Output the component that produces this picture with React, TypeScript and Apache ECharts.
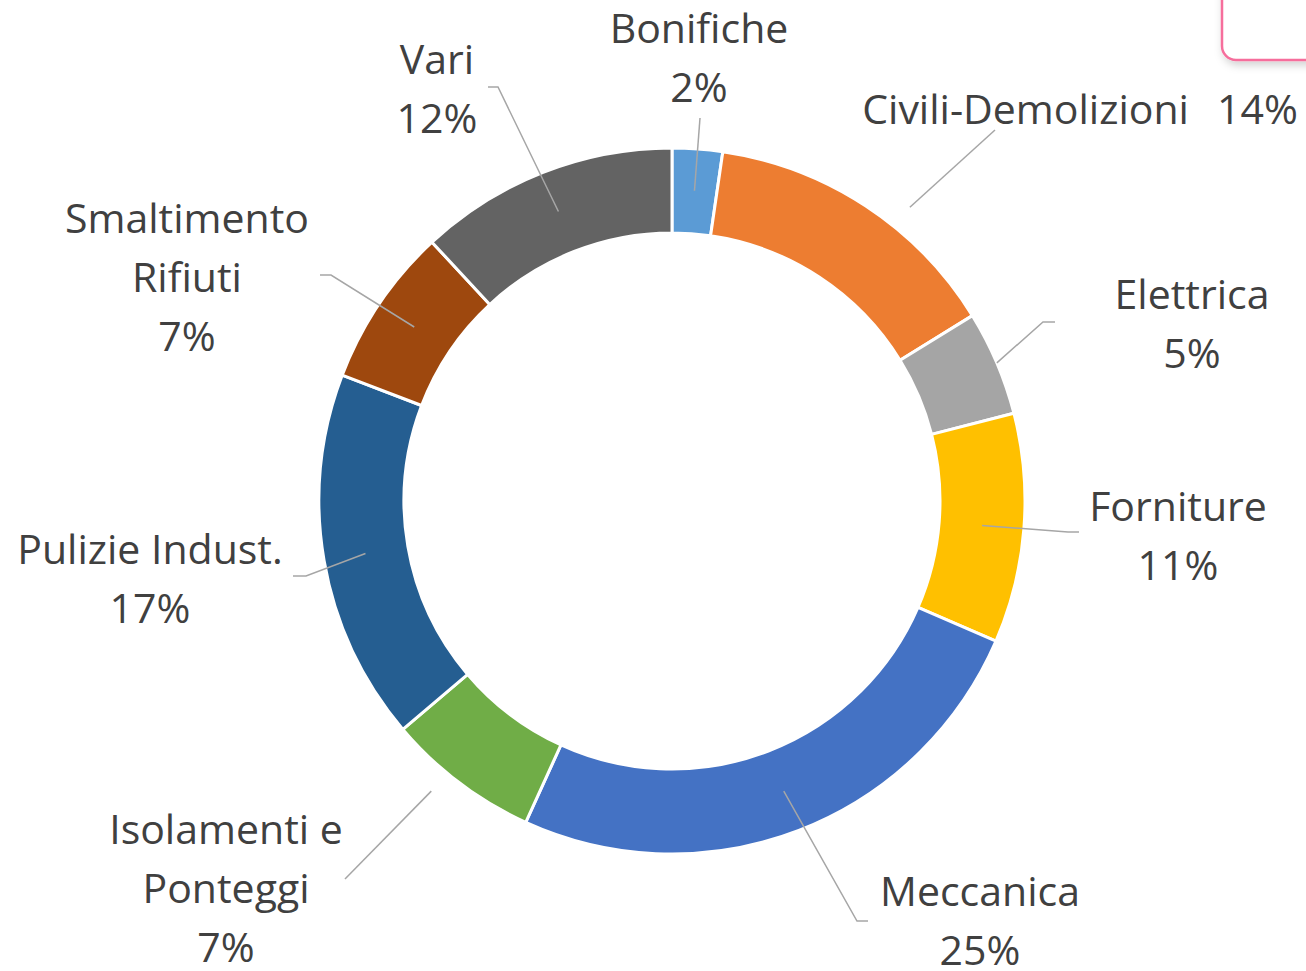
import React, { useEffect, useRef } from 'react';
import * as echarts from 'echarts';

// ---- data ----
const categories = [
  'Bonifiche',
  'Civili-Demolizioni',
  'Elettrica',
  'Forniture',
  'Meccanica',
  'Isolamenti e Ponteggi',
  'Pulizie Indust.',
  'Smaltimento Rifiuti',
  'Vari',
];
const shares = [2.3, 13.9, 4.8, 10.5, 25.3, 7.0, 17.0, 7.3, 11.9];

// ---- styling / layout ----
const colors = ['#5B9BD5', '#ED7D31', '#A5A5A5', '#FFC000', '#4472C4', '#70AD47', '#255E91', '#9E480E', '#636363'];
const labelNames = ['Bonifiche', 'Civili-Demolizioni', 'Elettrica', 'Forniture', 'Meccanica', 'Isolamenti e\nPonteggi', 'Pulizie Indust.', 'Smaltimento\nRifiuti', 'Vari'];
const labelSep = ['\n', '  \u2009', '\n', '\n', '\n', '\n', '\n', '\n', '\n'];
const CX = 672;
const CY = 501;
const R_IN = 268;
const R_OUT = 353;
const FONT = '"Open Sans", sans-serif';
const labelPos = [
  [699, 56], [1080, 108], [1192, 322], [1178, 534], [980, 919],
  [226, 887], [150, 577], [187, 276], [437, 87],
];
const lineStartR = [311, 378, 353, 311, 311, 377, 311, 311, 311];
const lineStartShiftDeg = [0, 5.7, 0, 0, 0, 2.6, 0, 0, 0];
const lineTail = [
  [[700, 118]],
  [[995, 130]],
  [[1043, 322], [1055, 322]],
  [[1068, 532], [1079, 532]],
  [[857, 921], [868, 921]],
  [[345, 879]],
  [[306, 576], [293, 576]],
  [[331, 275], [320, 275]],
  [[498, 87], [488, 87]],
];

function lineStart(i: number): number[] {
  const total = shares.reduce((a, b) => a + b, 0);
  let cum = 0;
  for (let k = 0; k < i; k++) cum += shares[k];
  const f = (cum + shares[i] / 2) / total;
  const t = f * Math.PI * 2 + (lineStartShiftDeg[i] * Math.PI) / 180;
  const r = lineStartR[i];
  return [CX + r * Math.sin(t), CY - r * Math.cos(t)];
}

export default function App() {
  const ref = useRef<HTMLDivElement>(null);
  useEffect(() => {
    const chart = echarts.init(ref.current as HTMLDivElement, null, { renderer: 'svg' });
    const data = categories.map((name, i) => ({ name, value: shares[i] }));
    chart.setOption({
      animation: false,
      backgroundColor: '#ffffff',
      color: colors,
      graphic: [
        {
          type: 'rect',
          shape: { x: 1222, y: -30, width: 120, height: 90, r: 14 },
          style: {
            fill: '#ffffff',
            stroke: '#F66E9C',
            lineWidth: 2.5,
            shadowBlur: 8,
            shadowColor: 'rgba(0,0,0,0.18)',
            shadowOffsetX: 2,
            shadowOffsetY: 4,
          },
          z: 1,
        },
      ],
      series: [
        {
          type: 'pie',
          z: 2,
          center: [CX, CY],
          radius: [R_IN, R_OUT],
          startAngle: 90,
          clockwise: true,
          avoidLabelOverlap: false,
          itemStyle: { borderColor: '#ffffff', borderWidth: 3 },
          label: { show: false },
          labelLine: { show: false },
          emphasis: { disabled: true },
          silent: true,
          data,
        },
        {
          type: 'pie',
          z: 3,
          center: [CX, CY],
          radius: [R_IN, R_OUT],
          startAngle: 90,
          clockwise: true,
          avoidLabelOverlap: false,
          percentPrecision: 0,
          silent: true,
          itemStyle: { color: 'rgba(0,0,0,0)', borderWidth: 0 },
          label: {
            show: true,
            position: 'outside',
            fontFamily: FONT,
            fontSize: 41,
            lineHeight: 59,
            color: '#404040',
            align: 'center',
            formatter: (p: any) => `${labelNames[p.dataIndex]}${labelSep[p.dataIndex]}${p.percent}%`,
          },
          labelLine: {
            show: true,
            smooth: false,
            lineStyle: { color: '#A6A6A6', width: 1.5 },
          },
          labelLayout: (params: any) => {
            const i = params.dataIndex;
            return {
              x: labelPos[i][0],
              y: labelPos[i][1],
              align: 'center',
              verticalAlign: 'middle',
              hideOverlap: false,
              labelLinePoints: [lineStart(i), ...lineTail[i]],
            };
          },
          emphasis: { disabled: true },
          data,
        },
      ],
    });
    return () => chart.dispose();
  }, []);
  return (
    <div
      ref={ref}
      style={{ position: 'fixed', left: 0, top: 0, width: 1306, height: 971, background: '#fff' }}
    />
  );
}
